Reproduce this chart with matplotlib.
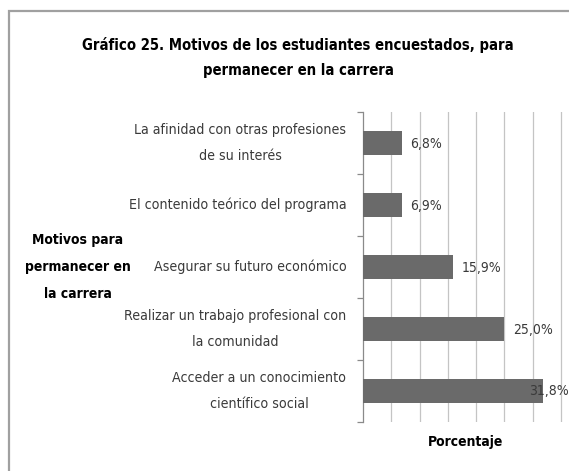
import matplotlib.pyplot as plt
from matplotlib.patches import Rectangle

# datos del gráfico
motivos = [
    'Acceder a un conocimiento\ncientífico social',
    'Realizar un trabajo profesional con\nla comunidad',
    'Asegurar su futuro económico',
    'El contenido teórico del programa',
    'La afinidad con otras profesiones\nde su interés',
]
porcentajes = [31.8, 25.0, 15.9, 6.9, 6.8]
etiquetas = ['31,8%', '25,0%', '15,9%', '6,9%', '6,8%']

plt.rcParams['font.family'] = ['DejaVu Sans']
plt.rcParams['font.stretch'] = 'condensed'

fig = plt.figure(figsize=(5.69, 4.71), dpi=100)
ax = fig.add_axes([0.638, 0.104, 0.362, 0.658])

pos = range(len(motivos))
ax.barh(pos, porcentajes, height=0.4, color='#6a6a6a', zorder=3)

ax.set_xlim(0, 36.4)
ax.set_ylim(-0.5, len(motivos) - 0.5)
ax.set_xticks([5, 10, 15, 20, 25, 30, 35])
ax.set_xticklabels([])
ax.tick_params(axis='x', length=0)
ax.grid(axis='x', color='#c4c4c4', linewidth=0.9, zorder=0)

ax.set_yticks(list(pos))
ax.set_yticklabels(motivos, fontsize=10.2, color='#3a3a3a', linespacing=2.1,
                   ha='right', va='center', multialignment='center')
ax.tick_params(axis='y', which='major', length=0, pad=12)
ax.set_yticks([i - 0.5 for i in range(len(motivos) + 1)], minor=True)
ax.tick_params(axis='y', which='minor', length=4, color='#8a8a8a', width=0.9)

for s in ['top', 'right', 'bottom']:
    ax.spines[s].set_visible(False)
ax.spines['left'].set_color('#8a8a8a')
ax.spines['left'].set_linewidth(0.9)

# etiquetas de valores
for i, (v, t) in enumerate(zip(porcentajes, etiquetas)):
    if v > 30:
        ax.annotate(t, xy=(1.0, i), xycoords=('axes fraction', 'data'),
                    ha='right', va='center', fontsize=10, color='#3a3a3a')
    else:
        ax.annotate(t, xy=(v, i), xytext=(6, -1), textcoords='offset points',
                    ha='left', va='center', fontsize=10, color='#3a3a3a')

ax.set_xlabel('Porcentaje', fontsize=10, fontweight='bold', labelpad=6)

fig.text(0.524, 0.878, 'Gráfico 25. Motivos de los estudiantes encuestados, para\npermanecer en la carrera',
         ha='center', va='center', fontsize=10.6, fontweight='bold', linespacing=1.85)
fig.text(0.137, 0.433, 'Motivos para\npermanecer en\nla carrera', ha='center', va='center',
         fontsize=10, fontweight='bold', linespacing=2.2)

# borde del gráfico
fig.patches.append(Rectangle((9 / 569, -0.05), 1.1, 1.05 - 11 / 471, transform=fig.transFigure,
                             fill=False, edgecolor='#a0a0a0', linewidth=1.6))

fig.savefig('out.png', dpi=100)
